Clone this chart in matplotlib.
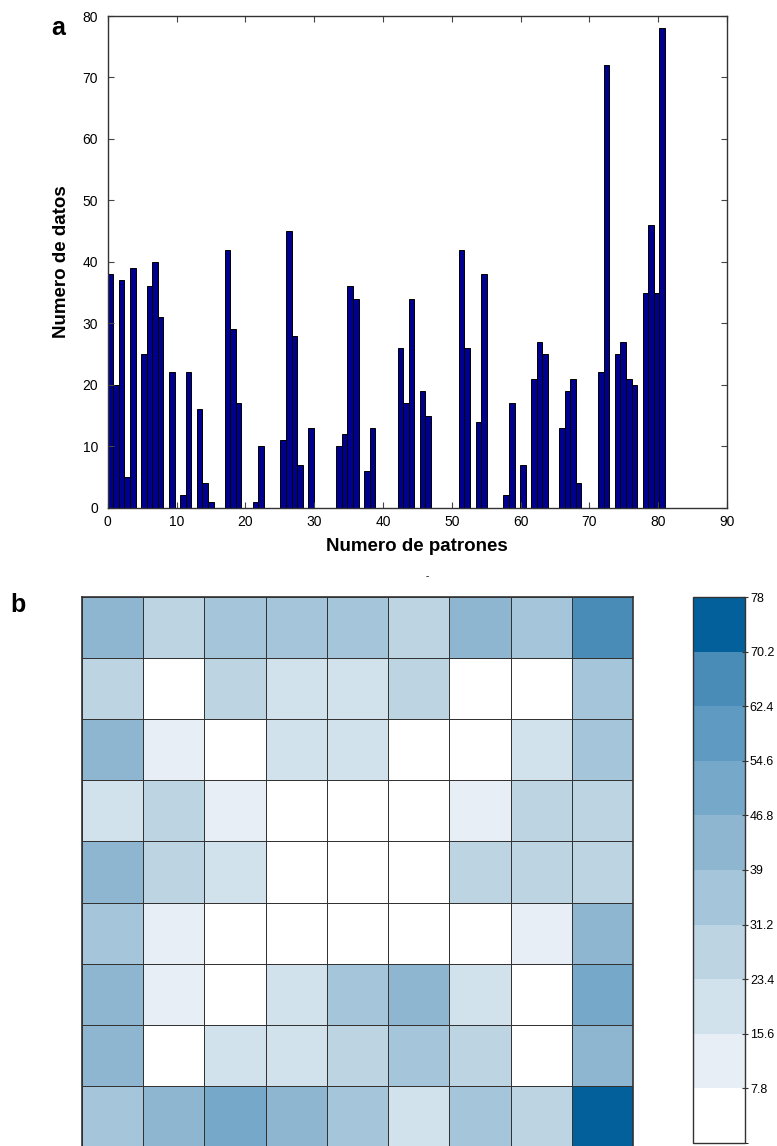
import numpy as np
import matplotlib
matplotlib.use("Agg")
import matplotlib.pyplot as plt
import matplotlib.cm as cm
from matplotlib.colors import ListedColormap, BoundaryNorm

plt.rcParams['font.family'] = ['Liberation Sans', 'DejaVu Sans']

# hits per neuron of the 9x9 map, neuron order (column by column)
hits = [38, 20, 37, 5, 39, 25, 36, 40, 31,
        22, 0, 2, 22, 16, 4, 1, 0, 42,
        29, 17, 0, 1, 10, 0, 0, 11, 45,
        28, 7, 13, 0, 0, 0, 10, 12, 36,
        34, 6, 13, 0, 0, 0, 26, 17, 34,
        19, 15, 0, 0, 0, 0, 42, 26, 14,
        38, 0, 0, 2, 17, 0, 7, 21, 27,
        25, 0, 13, 19, 21, 4, 0, 0, 22,
        72, 25, 27, 21, 20, 35, 46, 35, 78]
map_size = 9
n_bins = 100

x_ticks = list(range(0, 91, 10))
y_ticks = list(range(0, 81, 10))

level_colors = ['#FFFFFF', '#E7EEF5', '#D2E2EC', '#BDD4E3', '#A5C6DA',
                '#8EB6D0', '#76A8CA', '#5E9AC2', '#4A8CB8', '#03609B']
cell_bounds = [0, 0.5, 4.5, 14.5, 24.5, 34.5, 44.5, 54.5, 64.5, 74.5, 85]
cbar_max = 78
cbar_labels = ['7.8', '15.6', '23.4', '31.2', '39', '46.8', '54.6', '62.4', '70.2', '78']

W, H = 777, 1146
fig = plt.figure(figsize=(W / 100, H / 100), dpi=100)


def box(l, t, r, b):
    # pixel box -> figure fraction rect
    return [l / W, 1 - b / H, (r - l) / W, (b - t) / H]


# ---- a: histogram of the neuron index of each datum
ax = fig.add_axes(box(107.7, 16, 727, 507.7))
samples = np.repeat(np.arange(len(hits)), hits)
# right-closed bins, like the original hist call
counts, _ = np.histogram((len(hits) - 1) - samples, bins=n_bins, range=(0, len(hits) - 1))
counts = counts[::-1]
edges = np.linspace(0, len(hits), n_bins + 1)
ax.bar(edges[:-1], counts, width=np.diff(edges), align='edge',
       color='#00008F', edgecolor='black', linewidth=0.7)
ax.set_xlim(0, 90)
ax.set_ylim(0, 80)
ax.set_xticks(x_ticks)
ax.set_yticks(y_ticks)
ax.tick_params(direction='in', top=True, right=True, length=4, labelsize=10,
               width=0.8, color='#444444')
ax.tick_params(axis='y', pad=7)
ax.tick_params(axis='x', pad=5)
for s in ax.spines.values():
    s.set_color('#333333')
    s.set_linewidth(1.0)
ax.set_xlabel('Numero de patrones', fontsize=13.5, fontweight='bold', labelpad=7)
ax.set_ylabel('Numero de datos', fontsize=13.5, fontweight='bold', labelpad=9)

fig.text(58 / W, 1 - 28 / H, 'a', fontsize=18, fontweight='bold', ha='center', va='center')
fig.text(18 / W, 1 - 605 / H, 'b', fontsize=18, fontweight='bold', ha='center', va='center')
fig.text(427 / W, 1 - 576 / H, '-', fontsize=7, ha='center', va='center')

# ---- b: hits map
cmap = ListedColormap(level_colors)
grid = np.array(hits).reshape(map_size, map_size).T
hx = fig.add_axes(box(82, 597, 633, 1147))
hx.pcolormesh(np.arange(map_size + 1), np.arange(map_size + 1), grid,
              cmap=cmap, norm=BoundaryNorm(cell_bounds, cmap.N),
              edgecolors='#333333', linewidth=0.6)
hx.set_xlim(0, map_size)
hx.set_ylim(map_size, 0)
hx.set_xticks([])
hx.set_yticks([])
for s in hx.spines.values():
    s.set_color('#333333')
    s.set_linewidth(1.2)

cax = fig.add_axes(box(693, 597, 745, 1143))
cnorm = BoundaryNorm(np.linspace(0, cbar_max, cmap.N + 1), cmap.N)
sm = cm.ScalarMappable(norm=cnorm, cmap=cmap)
cb = fig.colorbar(sm, cax=cax, ticks=np.linspace(0, cbar_max, cmap.N + 1)[1:])
cb.set_ticklabels(cbar_labels)
cb.ax.tick_params(labelsize=9, direction='inout', length=5, width=0.8,
                  color='#333333', pad=1)
cb.outline.set_edgecolor('#333333')
cb.outline.set_linewidth(1.0)

fig.savefig('out.png', dpi=100)
